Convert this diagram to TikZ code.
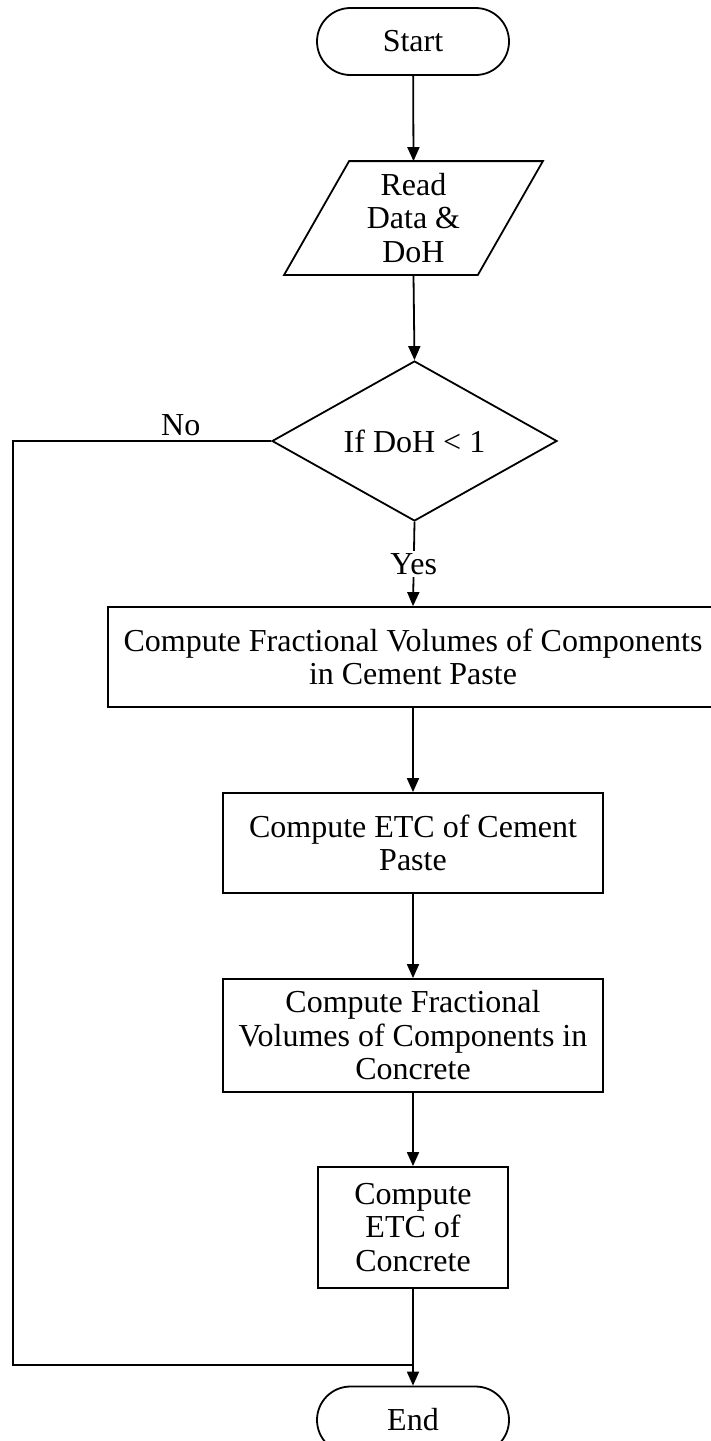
\documentclass[tikz,border=0pt]{standalone}
\usepackage{fontspec}
\setmainfont{Liberation Serif}
\usetikzlibrary{shapes.geometric,arrows.meta,calc}
\begin{document}
\begin{tikzpicture}[x=1pt,y=-1pt,
  line width=1.8pt,
  every node/.style={font=\fontsize{32}{33.5}\selectfont},
  term/.style={draw, rounded corners=33.5pt, minimum width=192pt, minimum height=67pt, inner sep=0pt},
  procbox/.style={draw, rectangle, align=center, inner sep=0pt},
  flow/.style={-{Triangle[length=14pt,width=12pt]}},
  lbl/.style={fill=white, inner sep=2pt}
]
\useasboundingbox (0,0) rectangle (711,1441);

% terminals, input, decision and process steps
\node[term] (start) at (413,41.5) {Start};
\node[minimum width=257pt, minimum height=112pt, inner sep=0pt, align=center] (read) at (413.5,218) {Read\\Data \&\\DoH};
\draw[line join=miter] ($(read.north west)+(65,0)$) -- (read.north east)
  -- ($(read.south east)-(65,0)$) -- (read.south west) -- cycle;
\node[diamond, draw, aspect=2, minimum width=285pt, minimum height=160pt, inner sep=0pt] (dec) at (414.5,441) {If DoH < 1};
\node[procbox, minimum width=610pt, minimum height=100pt] (b1) at (413,657) {Compute Fractional Volumes of Components\\in Cement Paste};
\node[procbox, minimum width=380pt, minimum height=100pt] (b2) at (413,843) {Compute ETC of Cement\\Paste};
\node[procbox, minimum width=380pt, minimum height=113pt] (b3) at (413,1035.5) {Compute Fractional\\Volumes of Components in\\Concrete};
\node[procbox, minimum width=190pt, minimum height=121pt] (b4) at (413,1227.5) {Compute\\ETC of\\Concrete};
\node[term] (end) at (413,1420) {End};

% loop-back corners
\coordinate (loopL) at (13,1365);
\coordinate (merge) at (413,1365);

% connectors
\draw[flow] (start) -- (read.north);
\draw[flow] (read.south) -- (dec.north);
\draw[flow] (dec.south) -- node[lbl] {Yes} (b1.north);
\draw[flow] (b1) -- (b2);
\draw[flow] (b2) -- (b3);
\draw[flow] (b3) -- (b4);
\draw[flow] (b4) -- (end);
\draw (dec.west) -- node[above=1pt, pos=0.35] {No} (dec.west -| loopL) -- (loopL) -- (merge);
\end{tikzpicture}
\end{document}
